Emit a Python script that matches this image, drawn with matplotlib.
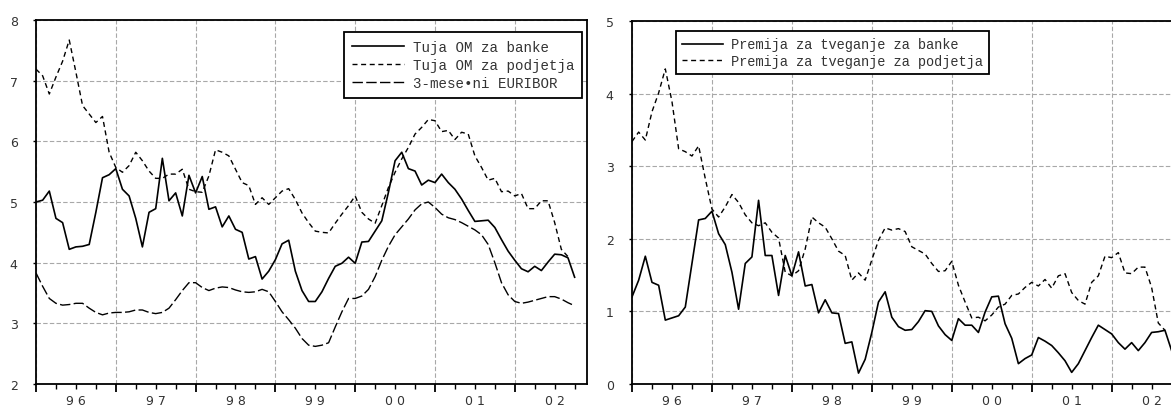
import numpy as np
import matplotlib
matplotlib.use("Agg")
import matplotlib.pyplot as plt
from matplotlib.ticker import FixedLocator, FixedFormatter, NullFormatter

# monthly data, Jan 1996 onwards
om_banke = [5.00, 5.03, 5.18, 4.73, 4.66, 4.22, 4.26, 4.27, 4.30, 4.83, 5.40, 5.45,
            5.55, 5.21, 5.10, 4.73, 4.26, 4.83, 4.89, 5.72, 5.02, 5.15, 4.77, 5.44,
            5.15, 5.42, 4.88, 4.92, 4.59, 4.77, 4.55, 4.50, 4.06, 4.10, 3.73, 3.86,
            4.05, 4.31, 4.37, 3.86, 3.54, 3.36, 3.36, 3.52, 3.74, 3.94, 3.99, 4.09,
            3.99, 4.34, 4.35, 4.52, 4.69, 5.16, 5.68, 5.82, 5.55, 5.51, 5.28, 5.36,
            5.32, 5.46, 5.32, 5.21, 5.05, 4.86, 4.68, 4.69, 4.70, 4.58, 4.38, 4.19,
            4.04, 3.90, 3.85, 3.94, 3.87, 4.01, 4.14, 4.13, 4.08, 3.76]
om_podjetja = [7.19, 7.08, 6.78, 7.06, 7.32, 7.67, 7.14, 6.59, 6.45, 6.31, 6.41, 5.82,
               5.57, 5.49, 5.60, 5.82, 5.68, 5.51, 5.39, 5.39, 5.46, 5.46, 5.54, 5.21,
               5.17, 5.16, 5.43, 5.86, 5.82, 5.76, 5.54, 5.32, 5.27, 4.96, 5.07, 4.96,
               5.07, 5.18, 5.22, 5.04, 4.82, 4.66, 4.52, 4.50, 4.49, 4.65, 4.80, 4.94,
               5.10, 4.83, 4.72, 4.65, 4.94, 5.24, 5.49, 5.71, 5.90, 6.12, 6.23, 6.36,
               6.34, 6.16, 6.18, 6.03, 6.15, 6.12, 5.76, 5.57, 5.36, 5.39, 5.17, 5.18,
               5.10, 5.14, 4.89, 4.89, 5.02, 5.02, 4.66, 4.22, 4.10]
euribor = [3.83, 3.61, 3.41, 3.33, 3.30, 3.31, 3.33, 3.33, 3.25, 3.18, 3.14, 3.17,
           3.18, 3.18, 3.19, 3.22, 3.22, 3.18, 3.16, 3.18, 3.25, 3.39, 3.54, 3.67,
           3.67, 3.59, 3.54, 3.58, 3.60, 3.59, 3.55, 3.52, 3.51, 3.52, 3.56, 3.52,
           3.36, 3.19, 3.06, 2.92, 2.75, 2.64, 2.62, 2.64, 2.68, 2.94, 3.19, 3.41,
           3.41, 3.45, 3.56, 3.77, 4.04, 4.27, 4.46, 4.59, 4.72, 4.87, 4.97, 5.00,
           4.91, 4.80, 4.74, 4.71, 4.66, 4.60, 4.54, 4.46, 4.30, 4.00, 3.67, 3.47,
           3.36, 3.33, 3.35, 3.38, 3.41, 3.44, 3.44, 3.40, 3.34, 3.29]

prem_banke = [1.20, 1.43, 1.76, 1.40, 1.36, 0.88, 0.91, 0.94, 1.06, 1.66, 2.26, 2.28,
              2.38, 2.07, 1.92, 1.54, 1.03, 1.66, 1.75, 2.53, 1.77, 1.77, 1.22, 1.77,
              1.49, 1.82, 1.35, 1.37, 0.98, 1.16, 0.98, 0.97, 0.56, 0.58, 0.15, 0.34,
              0.71, 1.13, 1.27, 0.92, 0.79, 0.74, 0.75, 0.86, 1.01, 1.00, 0.80, 0.68,
              0.60, 0.90, 0.81, 0.81, 0.71, 0.99, 1.20, 1.21, 0.83, 0.63, 0.28, 0.35,
              0.40, 0.64, 0.59, 0.53, 0.43, 0.32, 0.16, 0.28, 0.46, 0.64, 0.81, 0.75,
              0.69, 0.57, 0.48, 0.57, 0.46, 0.57, 0.71, 0.72, 0.74, 0.46]
prem_podjetja = [3.34, 3.47, 3.36, 3.75, 4.01, 4.34, 3.89, 3.24, 3.20, 3.14, 3.28, 2.83,
                 2.41, 2.30, 2.44, 2.61, 2.50, 2.33, 2.22, 2.18, 2.22, 2.09, 2.01, 1.54,
                 1.49, 1.56, 1.86, 2.30, 2.22, 2.16, 2.00, 1.83, 1.77, 1.43, 1.53, 1.43,
                 1.71, 1.98, 2.15, 2.12, 2.14, 2.10, 1.89, 1.84, 1.79, 1.66, 1.55, 1.56,
                 1.69, 1.36, 1.13, 0.91, 0.92, 0.87, 0.95, 1.06, 1.10, 1.22, 1.24, 1.33,
                 1.40, 1.35, 1.44, 1.32, 1.49, 1.52, 1.26, 1.15, 1.10, 1.40, 1.49, 1.76,
                 1.74, 1.81, 1.53, 1.52, 1.61, 1.61, 1.33, 0.84, 0.74]

years = list(range(1996, 2004))
year_labels = ["9 6", "9 7", "9 8", "9 9", "0 0", "0 1", "0 2", "0 3"]

left_labels = ["Tuja OM za banke", "Tuja OM za podjetja", "3-mese\u2022ni EURIBOR"]
right_labels = ["Premija za tveganje za banke", "Premija za tveganje za podjetja"]


def months(n):
    return 1996 + np.arange(n) / 12.0


def style_axes(ax, ylo, yhi):
    ax.set_xlim(1996, 2002.905)
    ax.set_ylim(ylo, yhi)
    ax.set_yticks(range(ylo, yhi + 1))
    ax.xaxis.set_major_locator(FixedLocator(years))
    ax.xaxis.set_major_formatter(NullFormatter())
    minor = []
    minor_lab = []
    for y, lab in zip(years, year_labels):
        minor += [y + 0.25, y + 0.5, y + 0.75]
        minor_lab += ["", lab, ""]
    ax.xaxis.set_minor_locator(FixedLocator(minor))
    ax.xaxis.set_minor_formatter(FixedFormatter(minor_lab))
    ax.tick_params(axis="x", which="major", direction="out", length=5.5, width=1.3,
                   top=False)
    ax.tick_params(axis="x", which="minor", direction="out", length=3.5, width=1.0,
                   labelsize=9, pad=4, colors="black", labelcolor="#333333", top=False)
    ax.tick_params(axis="y", direction="out", length=2.2, width=1.0, pad=11,
                   labelsize=9, labelcolor="#333333", right=False)
    ax.grid(True, which="major", color="#a8a8a8", linestyle=(0, (4, 2)), linewidth=0.8)
    for s in ax.spines.values():
        s.set_linewidth(1.3)
        s.set_color("black")
    ax.set_axisbelow(True)


fig = plt.figure(figsize=(11.71, 4.10), dpi=100)
W, H = 1171.0, 410.0
ax1 = fig.add_axes([36 / W, 25 / H, 551 / W, 364 / H])
ax2 = fig.add_axes([632 / W, 25 / H, 552 / W, 363 / H])

short_dash = (0, (3.6, 2.6))
long_dash = (0, (7.5, 2.4))

ax1.plot(months(len(om_banke)), om_banke, color="black", lw=1.2, label=left_labels[0])
ax1.plot(months(len(om_podjetja)), om_podjetja, color="black", lw=1.0,
         linestyle=short_dash, label=left_labels[1])
ax1.plot(months(len(euribor)), euribor, color="black", lw=1.0,
         linestyle=long_dash, label=left_labels[2])
style_axes(ax1, 2, 8)

ax2.plot(months(len(prem_banke)), prem_banke, color="black", lw=1.2, label=right_labels[0])
ax2.plot(months(len(prem_podjetja)), prem_podjetja, color="black", lw=1.0,
         linestyle=short_dash, label=right_labels[1])
style_axes(ax2, 0, 5)

leg1 = ax1.legend(loc="upper right", bbox_to_anchor=(0.991, 0.967), borderaxespad=0,
                  prop={"family": "Liberation Mono", "size": 10.2},
                  handlelength=3.7, handletextpad=0.6,
                  labelspacing=0.28, fancybox=False, framealpha=1,
                  edgecolor="black", borderpad=0.55)
leg1.get_frame().set_linewidth(1.3)
leg2 = ax2.legend(loc="upper left", bbox_to_anchor=(0.0797, 0.972), borderaxespad=0,
                  prop={"family": "Liberation Mono", "size": 9.8},
                  handlelength=3.0, handletextpad=0.6,
                  labelspacing=0.2, fancybox=False, framealpha=1,
                  edgecolor="black", borderpad=0.45)
leg2.get_frame().set_linewidth(1.3)
for leg in (leg1, leg2):
    for t in leg.get_texts():
        t.set_color("#333333")

fig.savefig("out.png", dpi=100)
